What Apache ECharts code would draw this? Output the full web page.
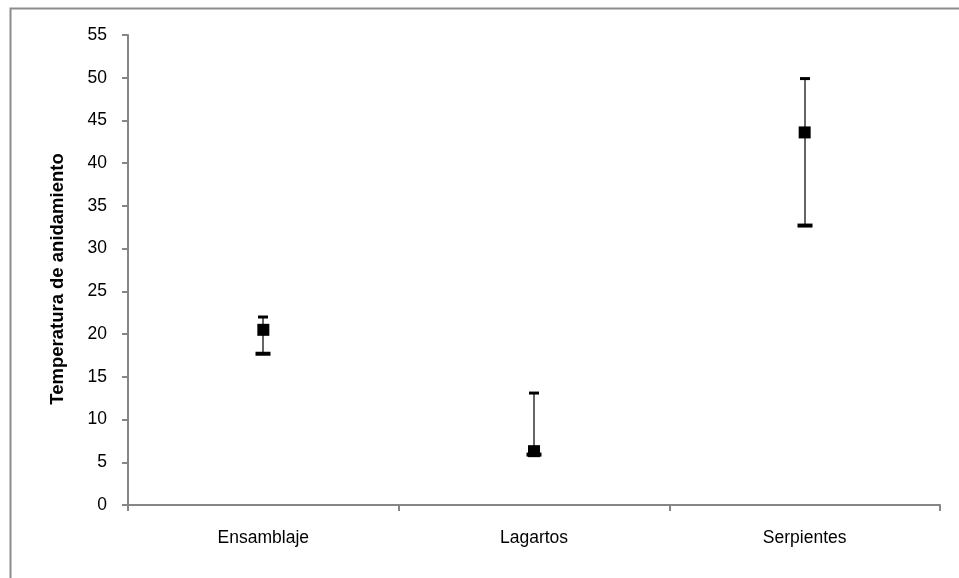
<!DOCTYPE html>
<html>
<head>
<meta charset="utf-8">
<script src="https://cdn.jsdelivr.net/npm/echarts@6/dist/echarts.min.js"></script>
<style>html,body{margin:0;padding:0;background:#fff}#c{width:959px;height:578px}</style>
</head>
<body>
<div id="c"></div>
<script>
var categories = ['Ensamblaje', 'Lagartos', 'Serpientes'];
var means = [20.5, 6.3, 43.6];
var lowers = [17.7, 5.9, 32.7];
var uppers = [22.0, 13.1, 49.9];
var yTicks = [0, 5, 10, 15, 20, 25, 30, 35, 40, 45, 50, 55];
var yTitle = 'Temperatura de anidamiento';

var chart = echarts.init(document.getElementById('c'));
var errData = categories.map(function (c, i) { return [i, lowers[i], uppers[i]]; });
var font = '"Liberation Sans", Arial, sans-serif';

chart.setOption({
  animation: false,
  backgroundColor: '#fff',
  graphic: [{
    type: 'rect', left: 8, top: 6, z: -1,
    shape: { width: 980, height: 600 },
    style: { fill: 'none', stroke: '#8c8c8c', lineWidth: 2 }
  }, {
    type: 'text', x: 58, y: 279, rotation: Math.PI / 2,
    style: { text: yTitle, fill: '#000', font: 'bold 18.5px ' + font, align: 'center', verticalAlign: 'middle' }
  }],
  grid: { left: 128, right: 19, top: 35, bottom: 73 },
  xAxis: {
    type: 'category', data: categories, boundaryGap: true,
    axisLine: { lineStyle: { color: '#868686', width: 2 } },
    axisTick: { show: true, length: 6, alignWithLabel: false, lineStyle: { color: '#868686', width: 2 } },
    axisLabel: { color: '#000', fontFamily: font, fontSize: 17.5, margin: 24 },
    splitLine: { show: false }
  },
  yAxis: {
    type: 'value', min: yTicks[0], max: yTicks[yTicks.length - 1], interval: 5,
    axisLine: { show: true, lineStyle: { color: '#868686', width: 2 } },
    axisTick: { show: true, length: 6, lineStyle: { color: '#868686', width: 2 } },
    axisLabel: { color: '#000', fontFamily: font, fontSize: 17.5, margin: 21 },
    splitLine: { show: false }
  },
  series: [{
    type: 'custom',
    data: errData,
    z: 2,
    renderItem: function (params, api) {
      var lo = api.coord([api.value(0), api.value(1)]);
      var hi = api.coord([api.value(0), api.value(2)]);
      var x = Math.round(lo[0]);
      return {
        type: 'group',
        children: [
          { type: 'line', shape: { x1: x, y1: lo[1], x2: x, y2: hi[1] }, style: { stroke: '#333', lineWidth: 1.5 } },
          { type: 'rect', shape: { x: x - 5, y: hi[1] - 1.5, width: 10, height: 3 }, style: { fill: '#000' } },
          { type: 'rect', shape: { x: x - 7.5, y: lo[1] - 2, width: 15, height: 4 }, style: { fill: '#000' } }
        ]
      };
    }
  }, {
    type: 'scatter',
    data: means,
    symbol: 'rect',
    symbolSize: 12,
    z: 3,
    itemStyle: { color: '#000', opacity: 1 }
  }]
});
</script>
</body>
</html>
